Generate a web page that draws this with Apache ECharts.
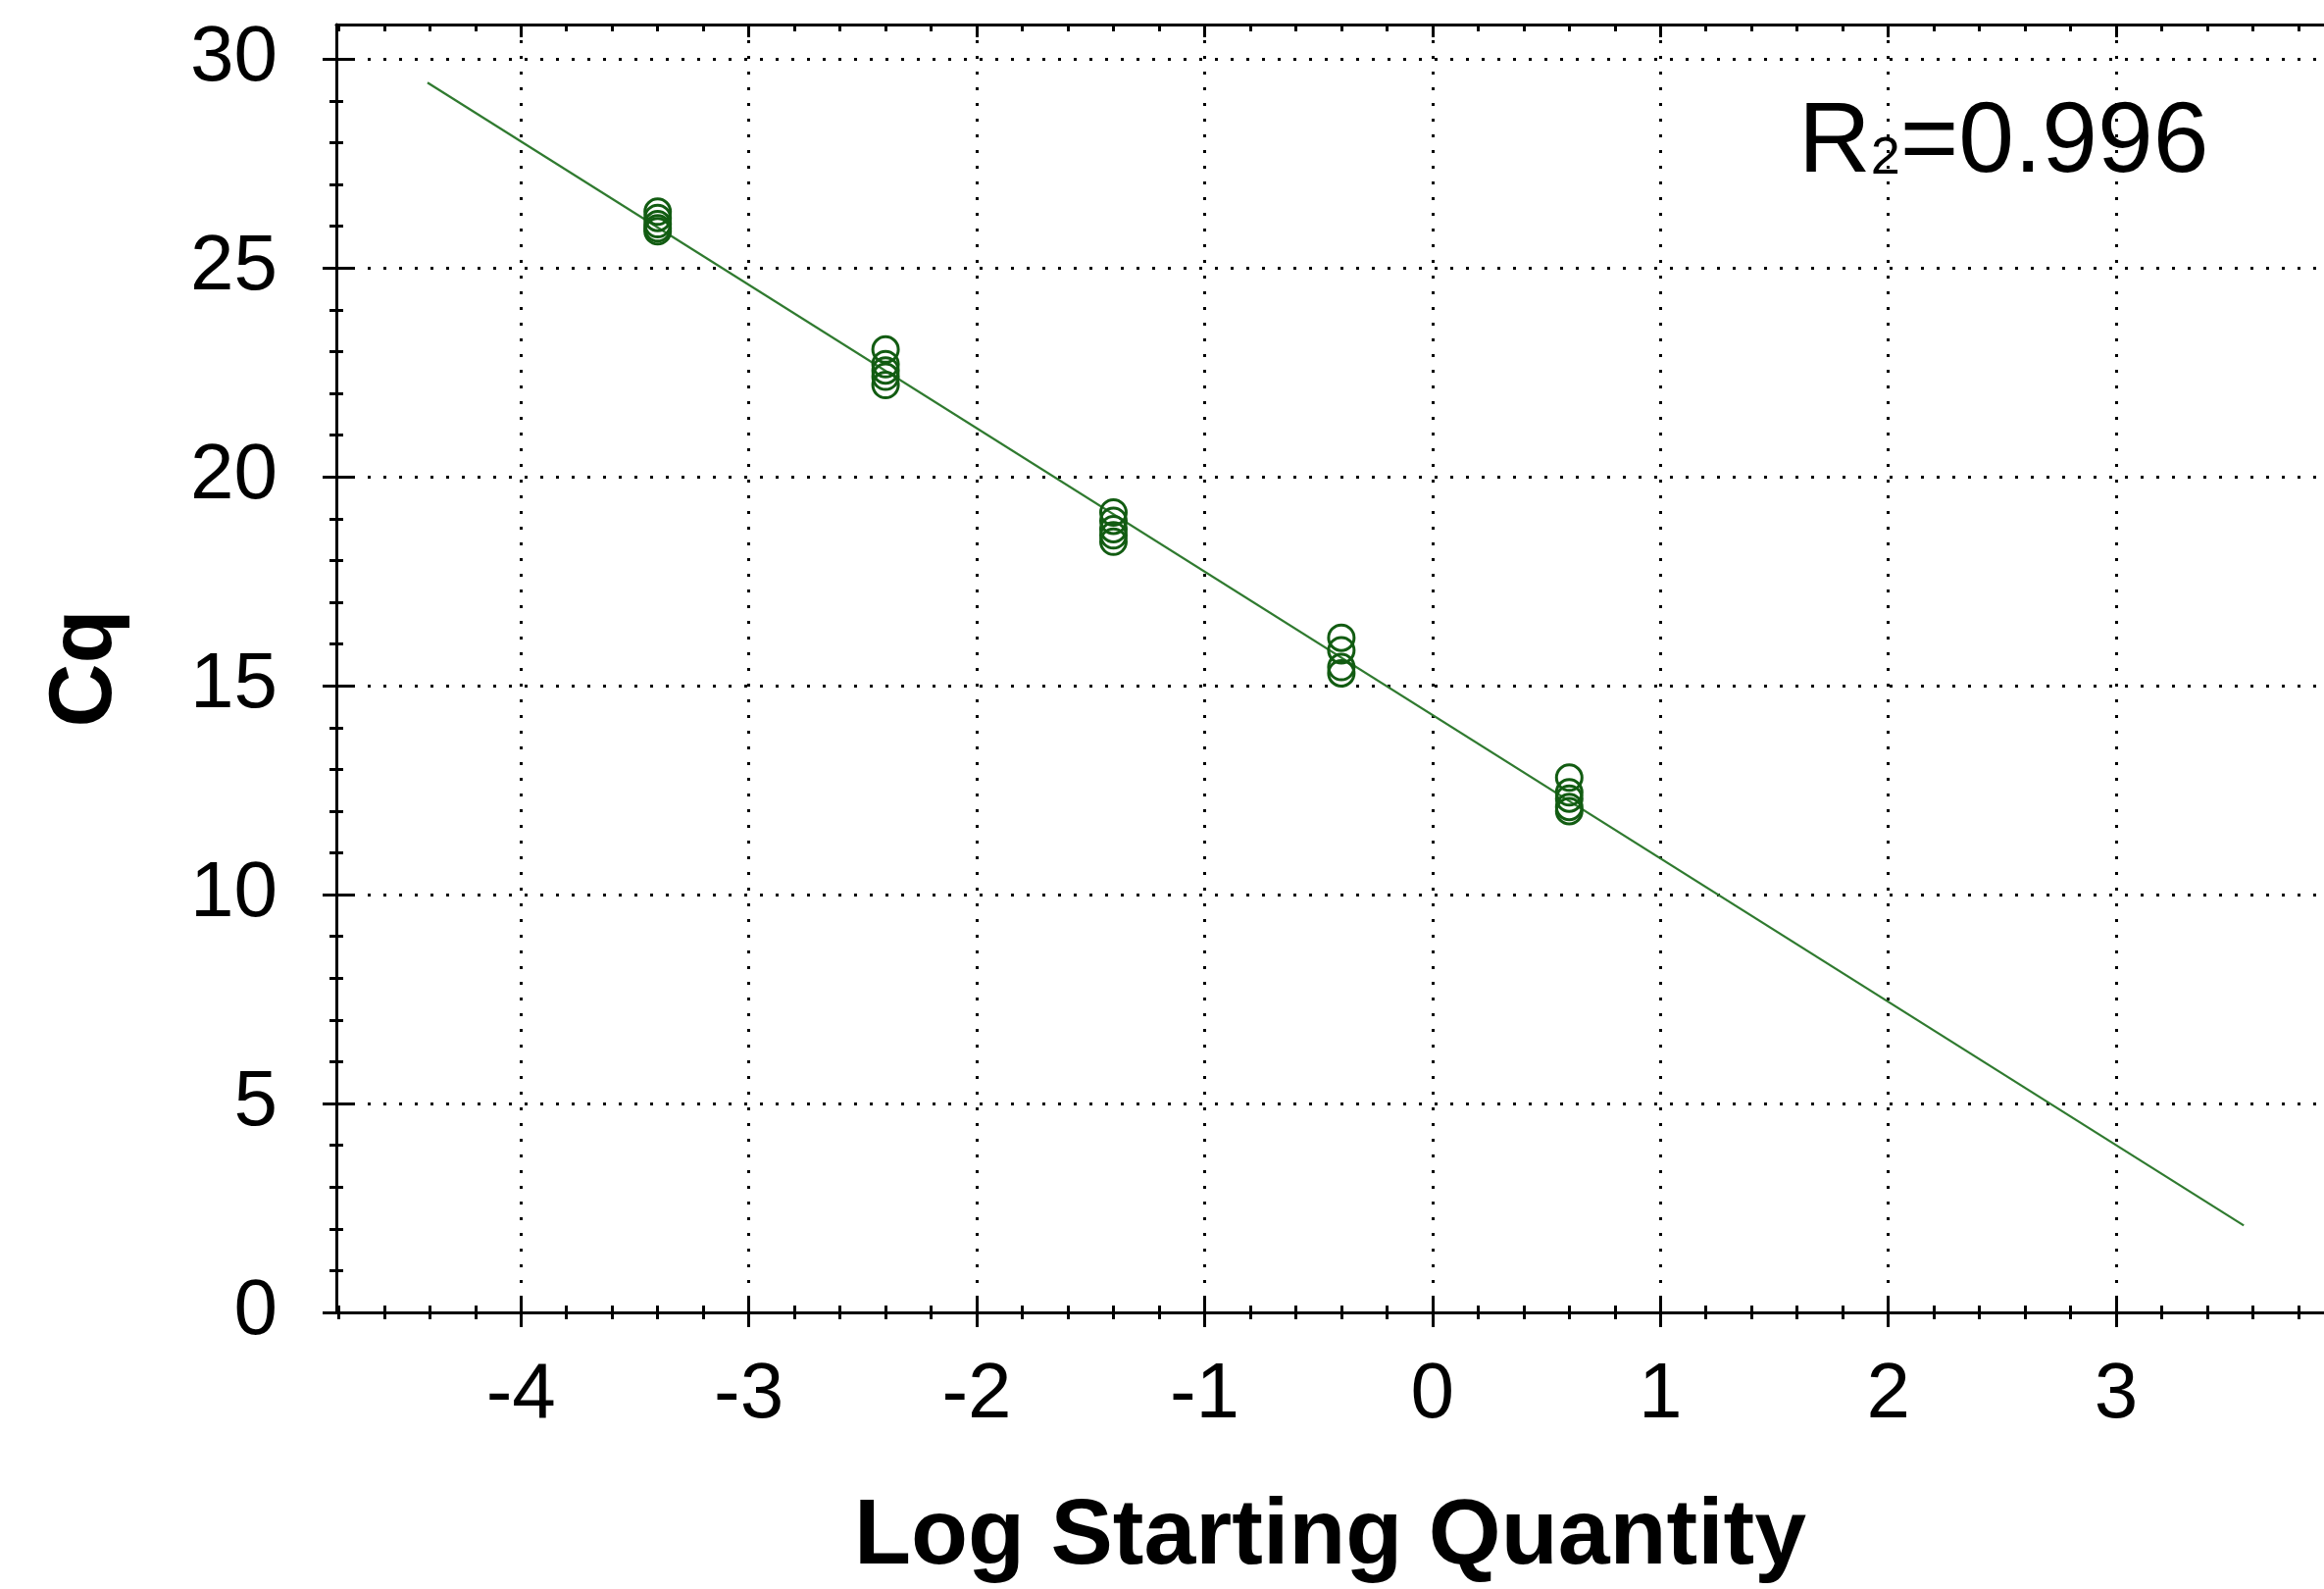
<!DOCTYPE html>
<html>
<head>
<meta charset="utf-8">
<script src="https://cdn.jsdelivr.net/npm/echarts@6/dist/echarts.min.js"></script>
<style>
html,body{margin:0;padding:0;background:#fff;}
#chart{width:2370px;height:1620px;}
</style>
</head>
<body>
<div id="chart"></div>
<script>
// ---- data ----
const X_TICKS = [-4, -3, -2, -1, 0, 1, 2, 3];
const Y_TICKS = [0, 5, 10, 15, 20, 25, 30];
const X_MINOR = [-4.8, -4.6, -4.4, -4.2, -3.8, -3.6, -3.4, -3.2, -2.8, -2.6, -2.4, -2.2,
  -1.8, -1.6, -1.4, -1.2, -0.8, -0.6, -0.4, -0.2, 0.2, 0.4, 0.6, 0.8,
  1.2, 1.4, 1.6, 1.8, 2.2, 2.4, 2.6, 2.8, 3.2, 3.4, 3.6, 3.8];
const Y_MINOR = [1, 2, 3, 4, 6, 7, 8, 9, 11, 12, 13, 14, 16, 17, 18, 19, 21, 22, 23, 24, 26, 27, 28, 29];
const LOG_QTY = [-3.4, -2.4, -1.4, -0.4, 0.6];
const CQ_REPLICATES = [
  [26.35, 26.2, 26.05, 25.95, 25.88],
  [23.05, 22.7, 22.55, 22.4, 22.2],
  [19.15, 18.95, 18.75, 18.6, 18.45],
  [16.15, 15.85, 15.45, 15.3],
  [12.8, 12.45, 12.3, 12.1, 12.0]
];
const FIT_X = [-4.41, 3.56];
const FIT_Y = [29.44, 2.08];
const X_NAME = 'Log Starting Quantity';
const Y_NAME = 'Cq';
const R2_LABEL = ['R', '2', '=0.996'];

const X_MIN = -4.81, X_MAX = 3.912, Y_MIN = 0, Y_MAX = 30.83;
const FONT = "'Liberation Sans', Arial, sans-serif";
const BLACK = '#000';

const scatterData = [];
LOG_QTY.forEach((x, i) => CQ_REPLICATES[i].forEach(y => scatterData.push([x, y])));
const fitData = FIT_X.map((x, i) => [x, FIT_Y[i]]);

function tickAxis(kind, pos, values, len, inside, lineShow) {
  return {
    type: 'value', position: pos, gridIndex: 0,
    min: kind === 'x' ? X_MIN : Y_MIN, max: kind === 'x' ? X_MAX : Y_MAX,
    axisLine: { show: !!lineShow, onZero: false, lineStyle: { color: BLACK, width: 3 } },
    axisLabel: { show: false },
    splitLine: { show: false },
    minorTick: { show: false },
    axisTick: { show: true, inside: inside, length: len, customValues: values,
      lineStyle: { color: BLACK, width: 3 } },
    silent: true
  };
}

const chart = echarts.init(document.getElementById('chart'), null, { renderer: 'canvas' });
const option = {
  animation: false,
  backgroundColor: '#fff',
  title: {
    left: 1834, top: 96, padding: 0,
    text: '{a|' + R2_LABEL[0] + '}{b|' + R2_LABEL[1] + '}{a|' + R2_LABEL[2] + '}',
    textStyle: {
      rich: {
        a: { fontFamily: FONT, fontSize: 102, lineHeight: 102, fontWeight: 'normal', color: BLACK, verticalAlign: 'bottom' },
        b: { fontFamily: FONT, fontSize: 54, fontWeight: 'normal', color: BLACK, verticalAlign: 'bottom', padding: [0, 0, 9, 0] }
      }
    }
  },
  grid: { left: 343, right: 0, top: 25, bottom: 282, containLabel: false, outerBoundsMode: 'none' },
  xAxis: [
    {
      type: 'value', position: 'bottom', min: X_MIN, max: X_MAX,
      splitNumber: 9, minInterval: 1, maxInterval: 1,
      name: X_NAME, nameLocation: 'middle', nameGap: 182, nameMoveOverlap: false,
      nameTextStyle: { fontFamily: FONT, fontSize: 95, fontWeight: 'bold', color: BLACK },
      axisLine: { show: true, onZero: false, lineStyle: { color: BLACK, width: 3 } },
      axisTick: { show: true, inside: false, length: 15, customValues: X_TICKS, lineStyle: { color: BLACK, width: 3 } },
      minorTick: { show: false },
      axisLabel: { show: true, customValues: X_TICKS, margin: 45, fontFamily: FONT, fontSize: 80, color: BLACK },
      splitLine: { show: true, lineStyle: { color: BLACK, width: 3, type: [3, 13] } }
    },
    tickAxis('x', 'bottom', X_TICKS, 16, true),
    tickAxis('x', 'bottom', X_MINOR, 7, false),
    tickAxis('x', 'bottom', X_MINOR, 7, true),
    tickAxis('x', 'top', X_TICKS, 13, true, true),
    tickAxis('x', 'top', X_MINOR, 7, true)
  ],
  yAxis: [
    {
      type: 'value', position: 'left', min: Y_MIN, max: Y_MAX,
      splitNumber: 6, minInterval: 5, maxInterval: 5,
      name: Y_NAME, nameLocation: 'middle', nameGap: 210, nameRotate: 90, nameMoveOverlap: false,
      nameTextStyle: { fontFamily: FONT, fontSize: 90, fontWeight: 'bold', color: BLACK },
      axisLine: { show: true, onZero: false, lineStyle: { color: BLACK, width: 3 } },
      axisTick: { show: true, inside: false, length: 14, customValues: Y_TICKS, lineStyle: { color: BLACK, width: 3 } },
      minorTick: { show: false },
      axisLabel: { show: true, customValues: Y_TICKS, margin: 60, fontFamily: FONT, fontSize: 80, color: BLACK,
        verticalAlign: 'middle', padding: [0, 0, 18, 0] },
      splitLine: { show: true, lineStyle: { color: BLACK, width: 3, type: [3, 13] } }
    },
    tickAxis('y', 'left', Y_TICKS, 16, true),
    tickAxis('y', 'left', Y_MINOR, 7, false),
    tickAxis('y', 'left', Y_MINOR, 7, true)
  ],
  series: [
    {
      type: 'line', xAxisIndex: 0, yAxisIndex: 0, data: fitData,
      showSymbol: false, symbol: 'none', z: 3,
      lineStyle: { color: '#2f7a2f', width: 2.2 }
    },
    {
      type: 'scatter', xAxisIndex: 0, yAxisIndex: 0, data: scatterData,
      symbol: 'circle', symbolSize: 26, z: 4,
      itemStyle: { color: 'rgba(0,0,0,0)', borderColor: '#125c12', borderWidth: 3, opacity: 1 }
    }
  ]
};
chart.setOption(option);
</script>
</body>
</html>
